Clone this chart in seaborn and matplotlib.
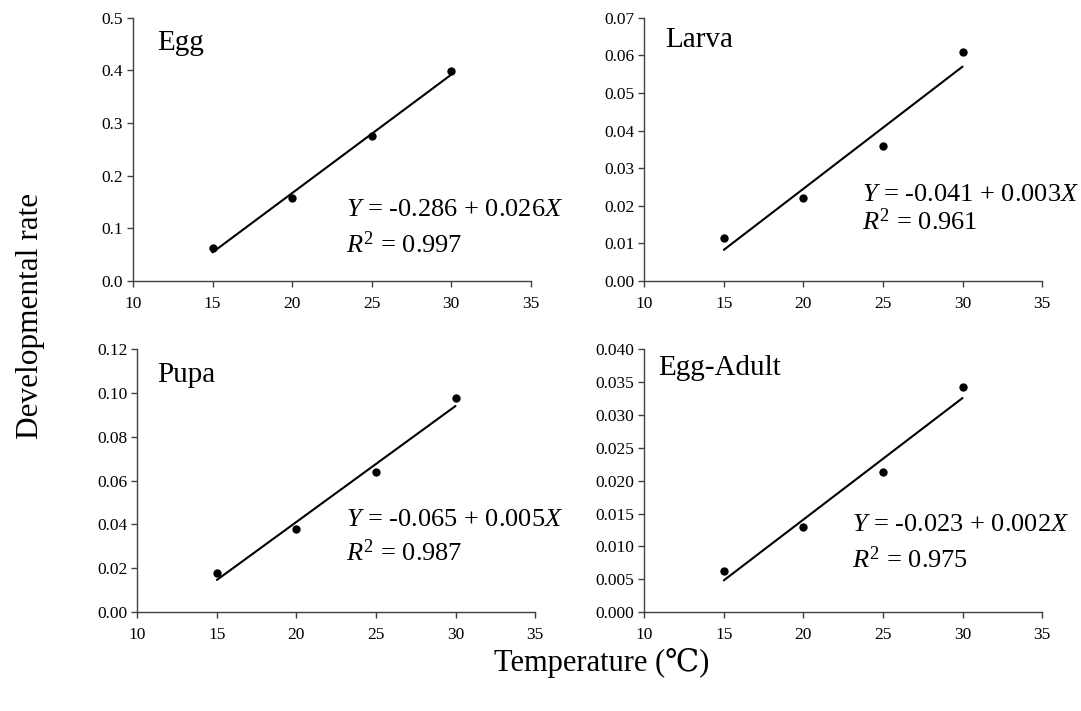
import numpy as np
import pandas as pd
import matplotlib
matplotlib.use("Agg")
import matplotlib.pyplot as plt
import seaborn as sns

temperature = [15, 20, 25, 30]
egg_rate = [0.062, 0.157, 0.275, 0.398]
larva_rate = [0.0115, 0.022, 0.036, 0.061]
pupa_rate = [0.018, 0.038, 0.064, 0.0975]
eggadult_rate = [0.0063, 0.0129, 0.0213, 0.0343]

stages = ["Egg", "Larva", "Pupa", "Egg-Adult"]
equations = ["-0.286", "-0.041", "-0.065", "-0.023"]
slopes = ["0.026", "0.003", "0.005", "0.002"]
r2_values = ["0.997", "0.961", "0.987", "0.975"]
y_limits = [(0, 0.5), (0, 0.07), (0, 0.12), (0, 0.040)]
y_steps = [0.1, 0.01, 0.02, 0.005]
y_formats = ["{:.1f}", "{:.2f}", "{:.2f}", "{:.3f}"]
x_ticks = [10, 15, 20, 25, 30, 35]

sns.set_style("white")
plt.rcParams['font.family'] = ['Liberation Serif', 'DejaVu Serif']
plt.rcParams['mathtext.fontset'] = 'custom'
plt.rcParams['mathtext.rm'] = 'Liberation Serif'
plt.rcParams['mathtext.it'] = 'Liberation Serif:italic'
plt.rcParams['text.color'] = 'black'
plt.rcParams['axes.labelcolor'] = 'black'
plt.rcParams['xtick.color'] = 'black'
plt.rcParams['ytick.color'] = 'black'

fig = plt.figure(figsize=(10.81, 7.11), dpi=100)
positions = [
    [0.123, 0.605, 0.368, 0.370],
    [0.596, 0.605, 0.368, 0.370],
    [0.127, 0.139, 0.368, 0.370],
    [0.596, 0.139, 0.368, 0.370],
]
label_pos = [(0.06, 0.905), (0.053, 0.916), (0.05, 0.90), (0.035, 0.93)]
eq_pos = [(0.535, 0.27, 0.137), (0.548, 0.327, 0.224), (0.525, 0.35, 0.228), (0.522, 0.33, 0.20)]
all_rates = [egg_rate, larva_rate, pupa_rate, eggadult_rate]

for i in range(4):
    ax = fig.add_axes(positions[i])
    df = pd.DataFrame({"T": temperature, "rate": all_rates[i]})
    sns.regplot(data=df, x="T", y="rate", ax=ax, ci=None, truncate=True,
                color="black",
                scatter_kws={"s": 36, "color": "black", "alpha": 1, "zorder": 3, "linewidths": 0},
                line_kws={"color": "black", "lw": 1.5})
    ax.set_xlim(10, 35)
    ax.set_ylim(*y_limits[i])
    yt = np.arange(y_limits[i][0], y_limits[i][1] + y_steps[i] / 2, y_steps[i])
    ax.set_yticks(yt)
    ax.set_yticklabels([y_formats[i].format(v) for v in yt])
    ax.set_xticks(x_ticks)
    ax.set_xticklabels([str(v) for v in x_ticks])
    ax.set_xlabel("")
    ax.set_ylabel("")
    for s in ["top", "right"]:
        ax.spines[s].set_visible(False)
    for s in ["left", "bottom"]:
        ax.spines[s].set_color("#404040")
        ax.spines[s].set_linewidth(1.0)
    ax.tick_params(axis="both", direction="out", length=4, width=1.0,
                   color="#404040", labelcolor="black", labelsize=12.5,
                   left=True, bottom=True, pad=3)
    ax.tick_params(axis="x", pad=7)
    ax.text(label_pos[i][0], label_pos[i][1], stages[i], transform=ax.transAxes,
            fontsize=21, va="center", ha="left", color="black")
    ex, ey1, ey2 = eq_pos[i]
    ax.text(ex, ey1, r"$\it{Y}$ = " + equations[i] + " + " + slopes[i] + r"$\it{X}$",
            transform=ax.transAxes, fontsize=19, va="center", ha="left", color="black")
    ax.text(ex, ey2, r"$\it{R}^{\it{2}}$ = " + r2_values[i],
            transform=ax.transAxes, fontsize=19, va="center", ha="left", color="black")

fig.text(0.028, 0.555, "Developmental rate", rotation=90, fontsize=22.5,
         va="center", ha="center", color="black")
fig.text(0.557, 0.068, "Temperature (℃)", fontsize=22, va="center", ha="center",
         color="black")

fig.savefig("out.png", dpi=100)
